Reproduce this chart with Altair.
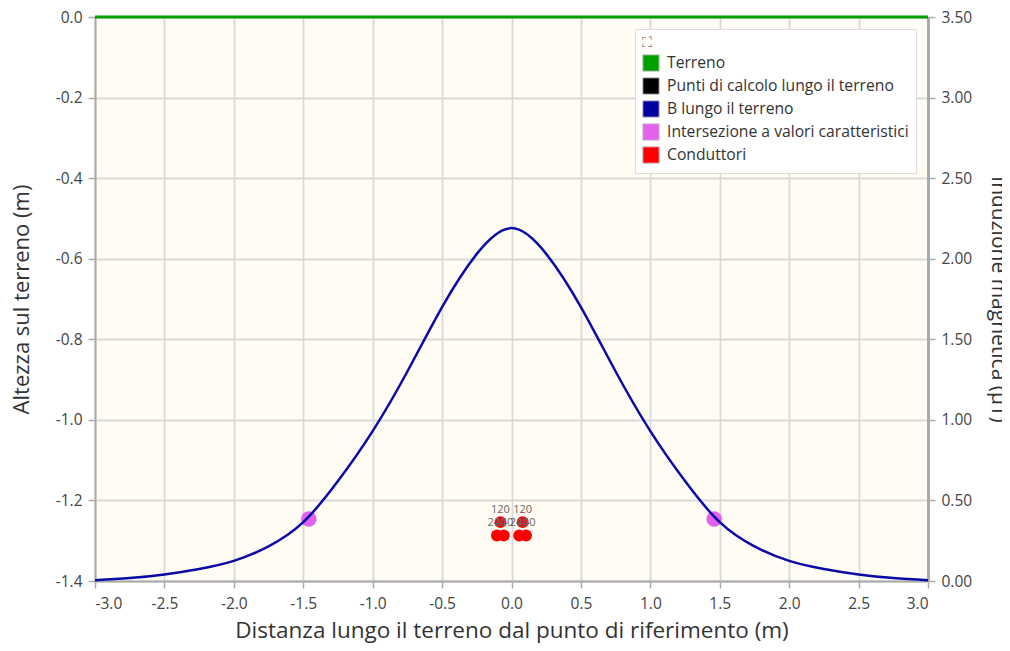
import altair as alt
import pandas as pd

# ---- data ----
x_dist = [-3.0, -2.75, -2.5, -2.25, -2.0, -1.75, -1.5, -1.25, -1.0, -0.75, -0.5, -0.25, 0.0,
          0.25, 0.5, 0.75, 1.0, 1.25, 1.5, 1.75, 2.0, 2.25, 2.5, 2.75, 3.0]
b_values = [0.004, 0.018, 0.041, 0.075, 0.125, 0.215, 0.365, 0.62, 0.93, 1.30, 1.70, 2.03, 2.19,
            2.03, 1.70, 1.30, 0.93, 0.62, 0.365, 0.215, 0.125, 0.075, 0.041, 0.018, 0.004]

terrain_x = [-3.0, 3.0]
terrain_y = [0.0, 0.0]

inters_x = [-1.46, 1.46]
inters_y = [-1.246, -1.246]

cond_x = [-0.08, -0.105, -0.055, 0.08, 0.055, 0.105]
cond_y = [-1.254, -1.287, -1.287, -1.254, -1.287, -1.287]
cond_lab = ["120", "240", "240", "120", "240", "240"]

series = ["Terreno", "Punti di calcolo lungo il terreno", "B lungo il terreno",
          "Intersezione a valori caratteristici", "Conduttori"]
colors = ["#00a000", "#000000", "#0000a0", "#e062ee", "#ff0000"]

x_ticks = [-3.0, -2.5, -2.0, -1.5, -1.0, -0.5, 0.0, 0.5, 1.0, 1.5, 2.0, 2.5, 3.0]
yl_ticks = [0.0, -0.2, -0.4, -0.6, -0.8, -1.0, -1.2, -1.4]
yr_ticks = [0.0, 0.5, 1.0, 1.5, 2.0, 2.5, 3.0, 3.5]

# ---- tables ----
df_b = pd.DataFrame({"x": x_dist, "b": b_values})
df_t = pd.DataFrame({"x": terrain_x, "y": terrain_y, "serie": series[0]})
df_i = pd.DataFrame({"x": inters_x, "y": inters_y, "serie": series[3]})
df_c = pd.DataFrame({"x": cond_x, "y": cond_y, "lab": cond_lab, "serie": series[4]})

FONT = "Open Sans"
HYPHEN1 = "replace(format(datum.value, '.1f'), '\u2212', '-')"

x_enc = alt.X("x:Q", scale=alt.Scale(domain=[-3, 3], nice=False, zero=False),
              axis=alt.Axis(values=x_ticks, labelExpr=HYPHEN1,
                            title="Distanza lungo il terreno dal punto di riferimento (m)",
                            titlePadding=8, labelPadding=8, titleFontSize=22.5))
yl_scale = alt.Scale(domain=[-1.4, 0], nice=False, zero=False)
yl_axis = alt.Axis(orient="left", values=yl_ticks, labelExpr=HYPHEN1,
                   title="Altezza sul terreno (m)", titlePadding=22, grid=True, labelPadding=6,
                   titleFontSize=22)
color_enc = alt.Color("serie:N",
                      scale=alt.Scale(domain=series, range=colors),
                      legend=alt.Legend(title="⛶", orient="top-right", offset=12,
                                        fillColor="white", strokeColor="#dddddd",
                                        padding=7, symbolType="square", symbolSize=270,
                                        symbolStrokeColor="#cccccc", symbolStrokeWidth=1,
                                        labelFontSize=15.7, labelColor="#333333",
                                        labelLimit=0, labelOffset=7,
                                        rowPadding=1, titleFontSize=14,
                                        titleColor="#666666", titlePadding=4,
                                        titleFontWeight="normal"))

terrain = alt.Chart(df_t).mark_line(color="#00a000", strokeWidth=3).encode(
    x=x_enc, y=alt.Y("y:Q", scale=yl_scale, axis=yl_axis))

inters = alt.Chart(df_i).mark_circle(size=240, opacity=1).encode(
    x=x_enc, y=alt.Y("y:Q", scale=yl_scale, axis=yl_axis), color=color_enc)

conds = alt.Chart(df_c).mark_circle(size=140, opacity=1).encode(
    x=x_enc, y=alt.Y("y:Q", scale=yl_scale, axis=yl_axis), color=color_enc)

labels = alt.Chart(df_c).mark_text(dy=-12, fontSize=11, color="#666666", font=FONT).encode(
    x=x_enc, y=alt.Y("y:Q", scale=yl_scale, axis=yl_axis), text="lab:N")

left = alt.layer(terrain, inters, conds, labels)

curve = alt.Chart(df_b).mark_line(color="#0a0aa8", strokeWidth=2.5, interpolate="natural").encode(
    x=x_enc,
    y=alt.Y("b:Q", scale=alt.Scale(domain=[0, 3.5], nice=False, zero=False),
            axis=alt.Axis(orient="right", values=yr_ticks, format=".2f",
                          title="Induzione magnetica (µT)", grid=False,
                          titlePadding=16, labelPadding=6, domainWidth=3)))

chart = alt.layer(left, curve).resolve_scale(y="independent").properties(
    width=833, height=564,
    autosize=alt.AutoSizeParams(type="none"),
    padding={"left": 87, "top": 9, "right": 74, "bottom": 62},
).configure(font=FONT).configure_view(
    fill="#fffcf3", stroke="transparent"
).configure_axis(
    labelFontSize=15.5, labelColor="#444444", titleFontSize=21, titleFontWeight="normal",
    titleColor="#333333", domainColor="#aaaaaa", domainWidth=2, tickColor="#aaaaaa",
    tickSize=7, tickWidth=1.5, gridColor="#d9d9d9", gridWidth=1.8, labelFont=FONT, titleFont=FONT
)

chart.save("out.html", embed_options={"renderer": "svg", "actions": False})
